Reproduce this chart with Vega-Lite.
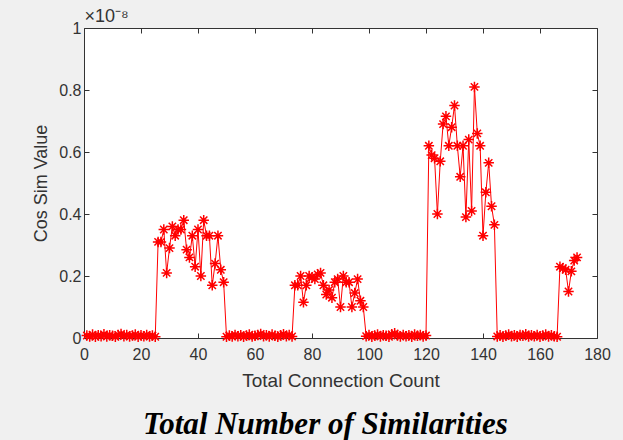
{
  "$schema": "https://vega.github.io/schema/vega-lite/v6.json",
  "width": 513,
  "height": 310,
  "autosize": {"type": "none"},
  "padding": {"left": 84, "top": 28, "right": 26, "bottom": 102},
  "background": "#f0f0f0",
  "title": {
    "text": "Total Number of Similarities",
    "orient": "bottom",
    "anchor": "middle",
    "font": "Liberation Serif",
    "fontStyle": "italic",
    "fontWeight": "bold",
    "fontSize": 31,
    "color": "#000000",
    "offset": 20,
    "dx": -15
  },
  "config": {
    "view": {"fill": "#ffffff", "stroke": "#333333", "strokeWidth": 1},
    "axis": {
      "labelFont": "Liberation Sans",
      "titleFont": "Liberation Sans",
      "labelFontSize": 16,
      "titleFontSize": 18,
      "labelColor": "#333333",
      "titleColor": "#333333",
      "titleFontWeight": "normal",
      "tickColor": "#333333",
      "tickSize": -5,
      "domain": false,
      "grid": false
    }
  },
  "data": {
    "values": [
      {"x": 1, "y": 0.008}, {"x": 2, "y": 0.005}, {"x": 3, "y": 0.011}, {"x": 4, "y": 0.004}, {"x": 5, "y": 0.009},
      {"x": 6, "y": 0.006}, {"x": 7, "y": 0.012}, {"x": 8, "y": 0.005}, {"x": 9, "y": 0.009}, {"x": 10, "y": 0.007},
      {"x": 11, "y": 0.004}, {"x": 12, "y": 0.01}, {"x": 13, "y": 0.013}, {"x": 14, "y": 0.006}, {"x": 15, "y": 0.01},
      {"x": 16, "y": 0.005}, {"x": 17, "y": 0.008}, {"x": 18, "y": 0.011}, {"x": 19, "y": 0.004}, {"x": 20, "y": 0.009},
      {"x": 21, "y": 0.006}, {"x": 22, "y": 0.01}, {"x": 23, "y": 0.005}, {"x": 24, "y": 0.008}, {"x": 25, "y": 0.004},
      {"x": 26, "y": 0.31}, {"x": 27, "y": 0.31}, {"x": 28, "y": 0.35}, {"x": 29, "y": 0.21}, {"x": 30, "y": 0.29},
      {"x": 31, "y": 0.36}, {"x": 32, "y": 0.33}, {"x": 33, "y": 0.35}, {"x": 34, "y": 0.35}, {"x": 35, "y": 0.38},
      {"x": 36, "y": 0.285}, {"x": 37, "y": 0.26}, {"x": 38, "y": 0.33}, {"x": 39, "y": 0.23}, {"x": 40, "y": 0.35},
      {"x": 41, "y": 0.2}, {"x": 42, "y": 0.38}, {"x": 43, "y": 0.33}, {"x": 44, "y": 0.33}, {"x": 45, "y": 0.17},
      {"x": 46, "y": 0.24}, {"x": 47, "y": 0.33}, {"x": 48, "y": 0.22}, {"x": 49, "y": 0.18},
      {"x": 50, "y": 0.004}, {"x": 51, "y": 0.008}, {"x": 52, "y": 0.005}, {"x": 53, "y": 0.01}, {"x": 54, "y": 0.006},
      {"x": 55, "y": 0.009}, {"x": 56, "y": 0.004}, {"x": 57, "y": 0.008}, {"x": 58, "y": 0.011}, {"x": 59, "y": 0.005},
      {"x": 60, "y": 0.007}, {"x": 61, "y": 0.01}, {"x": 62, "y": 0.013}, {"x": 63, "y": 0.006}, {"x": 64, "y": 0.009},
      {"x": 65, "y": 0.005}, {"x": 66, "y": 0.011}, {"x": 67, "y": 0.007}, {"x": 68, "y": 0.004}, {"x": 69, "y": 0.009},
      {"x": 70, "y": 0.012}, {"x": 71, "y": 0.006}, {"x": 72, "y": 0.01}, {"x": 73, "y": 0.005},
      {"x": 74, "y": 0.17}, {"x": 75, "y": 0.17}, {"x": 76, "y": 0.2}, {"x": 77, "y": 0.115}, {"x": 78, "y": 0.17},
      {"x": 79, "y": 0.2}, {"x": 80, "y": 0.195}, {"x": 81, "y": 0.19}, {"x": 82, "y": 0.205}, {"x": 83, "y": 0.21},
      {"x": 84, "y": 0.17}, {"x": 85, "y": 0.14}, {"x": 86, "y": 0.155}, {"x": 87, "y": 0.13}, {"x": 88, "y": 0.18},
      {"x": 89, "y": 0.19}, {"x": 90, "y": 0.1}, {"x": 91, "y": 0.2}, {"x": 92, "y": 0.18}, {"x": 93, "y": 0.18},
      {"x": 94, "y": 0.1}, {"x": 95, "y": 0.145}, {"x": 96, "y": 0.19}, {"x": 97, "y": 0.12}, {"x": 98, "y": 0.1},
      {"x": 99, "y": 0.006}, {"x": 100, "y": 0.01}, {"x": 101, "y": 0.004}, {"x": 102, "y": 0.008}, {"x": 103, "y": 0.011},
      {"x": 104, "y": 0.005}, {"x": 105, "y": 0.009}, {"x": 106, "y": 0.007}, {"x": 107, "y": 0.004}, {"x": 108, "y": 0.012},
      {"x": 109, "y": 0.015}, {"x": 110, "y": 0.008}, {"x": 111, "y": 0.005}, {"x": 112, "y": 0.01}, {"x": 113, "y": 0.006},
      {"x": 114, "y": 0.009}, {"x": 115, "y": 0.004}, {"x": 116, "y": 0.011}, {"x": 117, "y": 0.007}, {"x": 118, "y": 0.01},
      {"x": 119, "y": 0.005}, {"x": 120, "y": 0.008},
      {"x": 121, "y": 0.62}, {"x": 122, "y": 0.59}, {"x": 123, "y": 0.58}, {"x": 124, "y": 0.4}, {"x": 125, "y": 0.57},
      {"x": 126, "y": 0.69}, {"x": 127, "y": 0.715}, {"x": 128, "y": 0.62}, {"x": 129, "y": 0.68}, {"x": 130, "y": 0.75},
      {"x": 131, "y": 0.62}, {"x": 132, "y": 0.52}, {"x": 133, "y": 0.62}, {"x": 134, "y": 0.39}, {"x": 135, "y": 0.64},
      {"x": 136, "y": 0.41}, {"x": 137, "y": 0.81}, {"x": 138, "y": 0.66}, {"x": 139, "y": 0.62}, {"x": 140, "y": 0.33},
      {"x": 141, "y": 0.47}, {"x": 142, "y": 0.565}, {"x": 143, "y": 0.425}, {"x": 144, "y": 0.365},
      {"x": 145, "y": 0.005}, {"x": 146, "y": 0.009}, {"x": 147, "y": 0.004}, {"x": 148, "y": 0.008}, {"x": 149, "y": 0.011},
      {"x": 150, "y": 0.006}, {"x": 151, "y": 0.009}, {"x": 152, "y": 0.004}, {"x": 153, "y": 0.01}, {"x": 154, "y": 0.007},
      {"x": 155, "y": 0.012}, {"x": 156, "y": 0.005}, {"x": 157, "y": 0.009}, {"x": 158, "y": 0.006}, {"x": 159, "y": 0.01},
      {"x": 160, "y": 0.004}, {"x": 161, "y": 0.008}, {"x": 162, "y": 0.011}, {"x": 163, "y": 0.005}, {"x": 164, "y": 0.009},
      {"x": 165, "y": 0.006}, {"x": 166, "y": 0.004},
      {"x": 167, "y": 0.23}, {"x": 168, "y": 0.225}, {"x": 169, "y": 0.22}, {"x": 170, "y": 0.15}, {"x": 171, "y": 0.215},
      {"x": 172, "y": 0.25}, {"x": 173, "y": 0.26}
    ]
  },
  "resolve": {"axis": {"x": "independent", "y": "independent"}},
  "layer": [
    {
      "mark": {"type": "line", "color": "#ff0000", "strokeWidth": 1, "clip": false},
      "encoding": {
        "x": {
          "field": "x", "type": "quantitative",
          "scale": {"domain": [0, 180], "nice": false, "zero": false},
          "axis": {"orient": "bottom", "values": [0, 20, 40, 60, 80, 100, 120, 140, 160, 180], "title": "Total Connection Count", "titleFontSize": 19, "labelPadding": 13, "titlePadding": 9, "labelFlush": false}
        },
        "y": {
          "field": "y", "type": "quantitative",
          "scale": {"domain": [0, 1], "nice": false},
          "axis": {"orient": "left", "values": [0, 0.2, 0.4, 0.6, 0.8, 1], "format": "~g", "title": "Cos Sim Value", "labelPadding": 8, "titlePadding": 8, "labelFlush": false}
        }
      }
    },
    {
      "mark": {"type": "point", "shape": "M-1,0L1,0M0,-1L0,1M-0.7,-0.7L0.7,0.7M-0.7,0.7L0.7,-0.7", "filled": false, "color": "#ff0000", "strokeWidth": 1.5, "size": 110, "opacity": 1, "clip": false},
      "encoding": {
        "x": {
          "field": "x", "type": "quantitative",
          "axis": {"orient": "top", "values": [0, 20, 40, 60, 80, 100, 120, 140, 160, 180], "labels": false, "title": "×10⁻⁸", "titleAnchor": "start", "titleAlign": "left", "titlePadding": 2, "titleFontSize": 18}
        },
        "y": {
          "field": "y", "type": "quantitative",
          "axis": {"orient": "right", "values": [0, 0.2, 0.4, 0.6, 0.8, 1], "labels": false, "title": null}
        }
      }
    }
  ]
}
